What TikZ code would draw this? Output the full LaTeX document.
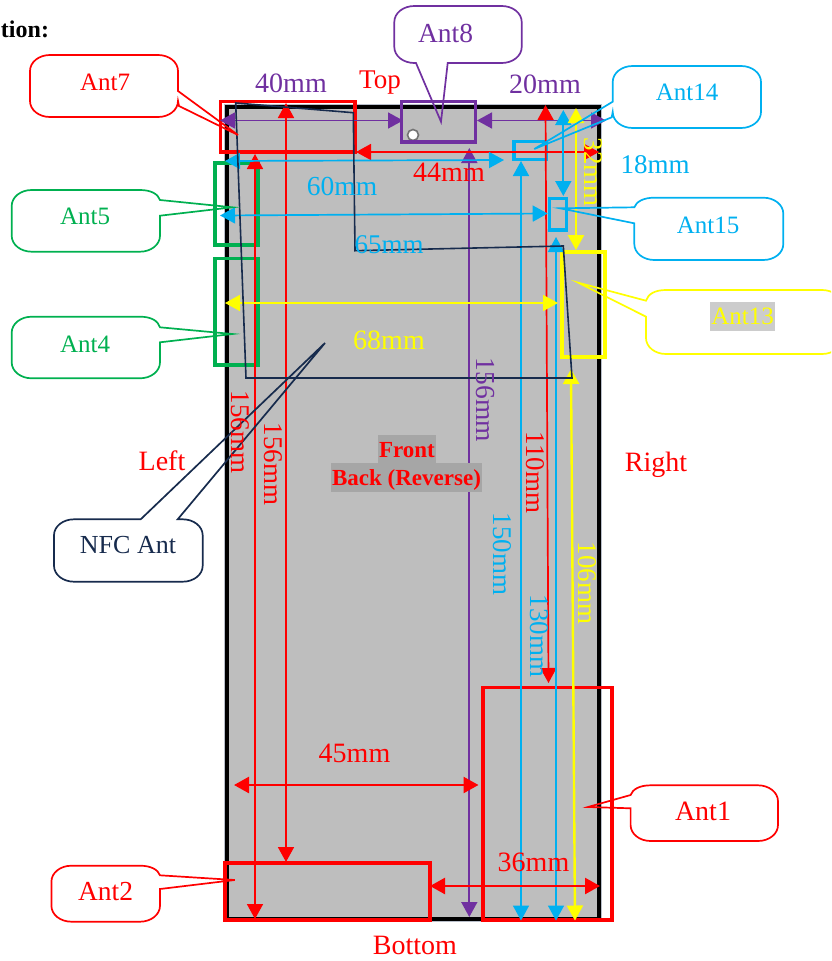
\documentclass[tikz,border=0pt]{standalone}
\usepackage{fontspec}
\setmainfont{Liberation Serif}
\usetikzlibrary{arrows.meta}
\definecolor{cRed}{HTML}{FF0000}
\definecolor{cPur}{HTML}{7030A0}
\definecolor{cCya}{HTML}{00B0F0}
\definecolor{cGrn}{HTML}{00B050}
\definecolor{cYel}{HTML}{FFFF00}
\definecolor{cNav}{HTML}{172B4D}
\definecolor{cGry}{HTML}{BEBEBE}
\tikzset{
  txt/.style={inner sep=0pt,outer sep=0pt,font=\fontsize{#1}{#1}\selectfont},
  vtxt/.style={txt=#1,rotate=-90},
  antbox/.style={draw=#1,line width=3.8pt,inner sep=0pt,outer sep=0pt,fill=none},
  dimline/.style={draw=#1,line width=1.7pt,{Triangle[length=15pt,width=16pt,fill=#1]}-{Triangle[length=15pt,width=16pt,fill=#1]}},
  dimthick/.style={draw=#1,line width=2.4pt,{Triangle[length=15pt,width=16pt,fill=#1]}-{Triangle[length=15pt,width=16pt,fill=#1]}},
  callout/.style={draw=#1,line width=1.7pt,fill=none,line join=miter},
  boldlab/.style={inner sep=0pt,outer sep=0pt,text=cRed,font=\fontsize{23}{23}\selectfont\bfseries},
}
\newcommand{\antrect}[6]{\node[antbox=#6,anchor=north west,minimum width={(#4-#2)*1pt},minimum height={(#5-#3)*1pt}] (#1) at (#2,#3) {};}
\newcommand{\dimn}[7][dimline]{\coordinate (#2a) at (#3,#4); \coordinate (#2b) at (#5,#6); \draw[#1=#7] (#2a) -- (#2b);}
\newcommand{\rx}{20}
\newcommand{\ry}{16}
\newcommand{\cTR}[2]{.. controls (#1-9,#2) and (#1,#2+7) .. (#1,#2+\ry)}
\newcommand{\cBR}[2]{.. controls (#1,#2-7) and (#1-9,#2) .. (#1-\rx,#2)}
\newcommand{\cBL}[2]{.. controls (#1+9,#2) and (#1,#2-7) .. (#1,#2-\ry)}
\newcommand{\cTL}[2]{.. controls (#1,#2+7) and (#1+9,#2) .. (#1+\rx,#2)}
% x1 y1 x2 y2 colour, then pointer: first base point, tip, second base point
\newcommand{\callL}[8]{\draw[callout=#5] (#1+\rx,#2) -- (#3-\rx,#2) \cTR{#3}{#2} -- (#3,#4-\ry) \cBR{#3}{#4} -- (#1+\rx,#4) \cBL{#1}{#4} -- #8 -- #7 -- #6 -- (#1,#2+\ry) \cTL{#1}{#2} -- cycle;}
\newcommand{\callR}[8]{\draw[callout=#5] (#1+\rx,#2) -- (#3-\rx,#2) \cTR{#3}{#2} -- #6 -- #7 -- #8 -- (#3,#4-\ry) \cBR{#3}{#4} -- (#1+\rx,#4) \cBL{#1}{#4} -- (#1,#2+\ry) \cTL{#1}{#2} -- cycle;}
% variants whose pointer leaves just under the top corner: the corner ends on the pointer base
\newcommand{\callLs}[8]{\draw[callout=#5] (#1+\rx,#2) -- (#3-\rx,#2) \cTR{#3}{#2} -- (#3,#4-\ry) \cBR{#3}{#4} -- (#1+\rx,#4) \cBL{#1}{#4} -- #8 -- #7 -- #6 .. controls (#1+2,#2+4) and (#1+9,#2) .. (#1+\rx,#2) -- cycle;}
\newcommand{\callRs}[8]{\draw[callout=#5] (#1+\rx,#2) -- (#3-\rx,#2) .. controls (#3-9,#2) and (#3-2,#2+4) .. #6 -- #7 -- #8 -- (#3,#4-\ry) \cBR{#3}{#4} -- (#1+\rx,#4) \cBL{#1}{#4} -- (#1,#2+\ry) \cTL{#1}{#2} -- cycle;}
\newcommand{\callB}[8]{\draw[callout=#5] (#1+\rx,#2) -- (#3-\rx,#2) \cTR{#3}{#2} -- (#3,#4-\ry) \cBR{#3}{#4} -- #8 -- #7 -- #6 -- (#1+\rx,#4) \cBL{#1}{#4} -- (#1,#2+\ry) \cTL{#1}{#2} -- cycle;}
\newcommand{\callT}[8]{\draw[callout=#5] (#1+\rx,#2) -- #6 -- #7 -- #8 -- (#3-\rx,#2) \cTR{#3}{#2} -- (#3,#4-\ry) \cBR{#3}{#4} -- (#1+\rx,#4) \cBL{#1}{#4} -- (#1,#2+\ry) \cTL{#1}{#2} -- cycle;}
\begin{document}
\begin{tikzpicture}[x=1pt,y=-1pt]
\useasboundingbox (0,0) rectangle (831,961);
\clip (0,0) rectangle (831,961);
% phone
\draw[draw=cNav!30,line width=7pt] (227,107) rectangle (598.5,918.5);
\draw[draw=black,line width=4pt,fill=cGry] (227,107) rectangle (598.5,918.5);
\node[circle,draw=black!55,line width=1.6pt,fill=white,minimum size=11pt,inner sep=0pt] (hole) at (413,135) {};
% antenna boxes
\antrect{b7}{220.5}{101.5}{355}{152}{cRed}
\antrect{b8}{401.5}{101.5}{475.5}{142}{cPur}
\antrect{b14}{514}{141.5}{546.5}{159.5}{cCya}
\antrect{b15}{549.5}{198.5}{566.5}{230}{cCya}
\antrect{b5}{215}{163}{258}{245}{cGrn}
\antrect{b4}{215}{258.5}{258}{365}{cGrn}
\antrect{b13}{562}{252}{605}{357}{cYel}
\antrect{b1}{483}{687.5}{612}{920}{cRed}
\antrect{b2}{225}{863}{430}{920}{cRed}
% dimensions
\dimn{d40}{220}{120.5}{403}{120.5}{cPur}
\dimn{d20}{477}{120.5}{606}{120.5}{cPur}
\dimn{dP}{469.3}{148}{469.3}{917}{cPur}
\dimn{d44}{356}{152}{599}{152}{cRed}
\dimn{dR1}{286}{103}{286}{862}{cRed}
\dimn{dR2}{255}{154}{255}{919}{cRed}
\dimn{dR3}{545.5}{105}{548.5}{683}{cRed}
\dimn{dC1}{521}{161}{521}{920.5}{cCya}
\dimn{dC2}{556}{237}{556}{920.5}{cCya}
\dimn{dC3}{563.3}{110}{563.3}{196}{cCya}
\dimn{d60}{225}{161}{504}{160}{cCya}
\dimn{d65}{220}{215.5}{547.7}{213.5}{cCya}
\dimn[dimthick]{d32}{576}{108}{576}{250}{cYel}
\dimn{d68}{225}{303}{558}{303}{cYel}
\dimn[dimthick]{d106}{571}{369}{575}{920.5}{cYel}
\dimn[dimthick]{d45}{234}{785}{478.5}{785}{cRed}
\dimn[dimthick]{d36}{430}{886}{600}{886}{cRed}
% NFC outline
\draw[cNav,line width=1.6pt,line join=miter] (235.7,103) -- (353.3,112.7) -- (355,250.7) -- (563.3,246) -- (572,378) -- (246,378) -- cycle;
% callouts
\callR{30}{55}{178}{117}{cRed}{(178,91)}{(238,135)}{(179,106)}
\node[txt=25,text=cRed] (t7) at (105,82) {Ant7};
\callB{394.3}{6}{521.7}{63}{cPur}{(416,63)}{(441,121.7)}{(447.7,63)}
\node[txt=27.5,text=cPur] (t8) at (445.5,33) {Ant8};
\callL{612.7}{66}{761}{128}{cCya}{(612.7,101.7)}{(534.3,149)}{(611.7,117.3)}
\node[txt=25,text=cCya] (t14) at (687,92) {Ant14};
\callLs{634.3}{197.7}{783.3}{260}{cCya}{(634.3,207.3)}{(560,208.3)}{(634.3,223.3)}
\node[txt=25,text=cCya] (t15) at (708,225) {Ant15};
\callLs{646}{290}{842}{354}{cYel}{(646,300.7)}{(578.3,282.7)}{(646,316.7)}
\node[fill=black!20,minimum width=65pt,minimum height=29pt,inner sep=0pt,outer sep=0pt,txt=25,text=cYel] (t13) at (742.5,316.5) {Ant13};
\callRs{11.7}{190}{160}{251.7}{cGrn}{(160,200)}{(232.3,207.3)}{(160,215.7)}
\node[txt=25,text=cGrn] (t5) at (85,216) {Ant5};
\callRs{11.7}{316.7}{160}{378.3}{cGrn}{(160,327.3)}{(232.3,334)}{(160,342.3)}
\node[txt=25,text=cGrn] (t4) at (85,344) {Ant4};
\callRs{51.4}{865.7}{160}{921.7}{cRed}{(160,875.3)}{(234.8,880)}{(160,889)}
\node[txt=27.5,text=cRed] (t2) at (105.5,892) {Ant2};
\callLs{630.6}{785.3}{778}{841}{cRed}{(630.6,795)}{(588,807)}{(630.6,808.3)}
\node[txt=28,text=cRed] (t1) at (703,811) {Ant1};
\callT{54}{519.3}{202.7}{581.7}{cNav}{(140.7,519.3)}{(325,343)}{(177.7,519.3)}
\node[txt=26,text=cNav] (tN) at (128,545) {NFC Ant};
% labels
\node[txt=24,anchor=base east,font=\fontsize{24}{24}\selectfont\bfseries] (title) at (49,37) {tion:};
\node[txt=28,text=cPur] (l40) at (291,83) {40mm};
\node[txt=27,text=cRed] (lTop) at (380,83) {Top};
\node[txt=28,text=cPur] (l20) at (545,84) {20mm};
\node[txt=27,text=cCya] (l18) at (655,165) {18mm};
\node[txt=27.5,text=cCya] (l60) at (342,186) {60mm};
\node[txt=28,text=cRed] (l44) at (449,172) {44mm};
\node[txt=27,text=cCya] (l65) at (389,245) {65mm};
\node[txt=28,text=cYel] (l68) at (389,340) {68mm};
\node[txt=28,text=cRed] (l45) at (354.5,753) {45mm};
\node[txt=28,text=cRed] (l36) at (533.5,862) {36mm};
\node[txt=28,text=cRed] (lLeft) at (162,461) {Left};
\node[txt=28,text=cRed] (lRight) at (656,465) {Right};
\node[txt=28,text=cRed] (lBot) at (415,945) {Bottom};
\node[vtxt=27,text=cRed] (v1) at (240.5,432) {156mm};
\node[vtxt=27,text=cRed] (v2) at (273,464) {156mm};
\node[vtxt=27.5,text=cPur] (v3) at (485,400) {156mm};
\node[vtxt=27,text=cRed] (v4) at (535,472.5) {110mm};
\node[vtxt=27,text=cCya] (v5) at (502.5,554) {150mm};
\node[vtxt=27,text=cCya] (v6) at (539,636) {130mm};
\node[vtxt=27,text=cYel] (v7) at (587,583) {106mm};
\node[vtxt=27,text=cYel] (v8) at (593,172) {32mm};
\fill[black!35] (378,435) rectangle (436,463);
\fill[black!35] (331,463) rectangle (482,492);
\node[boldlab] (lF) at (407,450) {Front};
\node[boldlab] (lB) at (406.5,479.5) {Back (Reverse)};
\end{tikzpicture}
\end{document}
